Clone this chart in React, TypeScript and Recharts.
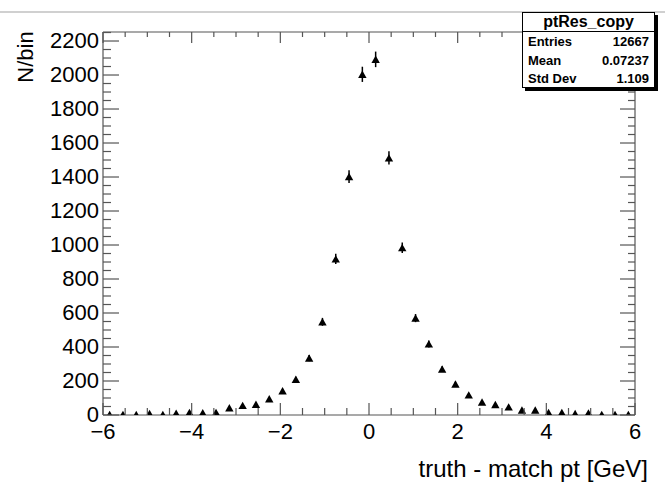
import React from 'react';
import { ScatterChart, Scatter, XAxis, YAxis, ErrorBar } from 'recharts';

const binCenters = [
  -5.85, -5.55, -5.25, -4.95, -4.65, -4.35, -4.05, -3.75, -3.45, -3.15,
  -2.85, -2.55, -2.25, -1.95, -1.65, -1.35, -1.05, -0.75, -0.45, -0.15,
  0.15, 0.45, 0.75, 1.05, 1.35, 1.65, 1.95, 2.25, 2.55, 2.85,
  3.15, 3.45, 3.75, 4.05, 4.35, 4.65, 4.95, 5.25, 5.55, 5.85,
];
const counts = [
  3, 3, 2, 8, 3, 10, 15, 13, 15, 42,
  56, 63, 95, 142, 210, 335, 548, 918, 1402, 2004,
  2092, 1512, 984, 570, 418, 270, 182, 118, 76, 61,
  47, 29, 29, 14, 14, 8, 12, 3, 3, 3,
];

const xMajorTicks = [-6, -4, -2, 0, 2, 4, 6];
const xTickLabels = ['−6', '−4', '−2', '0', '2', '4', '6'];
const yMajorTicks = [0, 200, 400, 600, 800, 1000, 1200, 1400, 1600, 1800, 2000, 2200];
const yTickLabels = ['0', '200', '400', '600', '800', '1000', '1200', '1400', '1600', '1800', '2000', '2200'];

const statTitle = 'ptRes_copy';
const statLabels = ['Entries', 'Mean', 'Std Dev'];
const statValues = ['12667', '0.07237', '1.109'];

const data = binCenters.map((x, i) => ({ x, y: counts[i], err: Math.sqrt(counts[i]) }));

// minor tick positions (every 0.5 on x, every 50 on y)
const xAllTicks: number[] = [];
for (let i = 0; i <= 24; i++) xAllTicks.push(-6 + i * 0.5);
const yAllTicks: number[] = [];
for (let i = 0; i <= 45; i++) yAllTicks.push(i * 50);

const FONT = "'Liberation Sans', Arial, Helvetica, sans-serif";
const AX = '#555';

const BottomTick = (p: any) => {
  const v = p.payload.value;
  const idx = xMajorTicks.indexOf(v);
  const len = idx >= 0 ? 12 : 7;
  return (
    <g>
      <line x1={p.x} x2={p.x} y1={p.y} y2={p.y - len} stroke={AX} strokeWidth={1.2} />
      {idx >= 0 && (
        <text x={p.x} y={p.y + 24} textAnchor="middle" fontSize={22} fontFamily={FONT} fill="#000">
          {xTickLabels[idx]}
        </text>
      )}
    </g>
  );
};

const TopTick = (p: any) => {
  const v = p.payload.value;
  const len = xMajorTicks.includes(v) ? 11 : 5;
  return <line x1={p.x} x2={p.x} y1={p.y} y2={p.y + len} stroke={AX} strokeWidth={1.2} />;
};

const LeftTick = (p: any) => {
  const v = p.payload.value;
  const idx = yMajorTicks.indexOf(v);
  const len = idx >= 0 ? 16 : 8;
  return (
    <g>
      <line x1={p.x} x2={p.x + len} y1={p.y} y2={p.y} stroke={AX} strokeWidth={1.2} />
      {idx >= 0 && (
        <text x={p.x - 4} y={p.y + 7} textAnchor="end" fontSize={22} fontFamily={FONT} fill="#000">
          {yTickLabels[idx]}
        </text>
      )}
    </g>
  );
};

const RightTick = (p: any) => {
  const v = p.payload.value;
  const len = yMajorTicks.includes(v) ? 15 : 7;
  return <line x1={p.x} x2={p.x - len} y1={p.y} y2={p.y} stroke={AX} strokeWidth={1.2} />;
};

const Triangle = (p: any) => {
  const { cx, cy } = p;
  return <polygon points={`${cx - 4.2},${cy + 3.6} ${cx + 4.2},${cy + 3.6} ${cx},${cy - 3.8}`} fill="#000" />;
};

export default function App() {
  return (
    <div style={{ position: 'absolute', left: 0, top: 0, width: 665, height: 482, background: '#fff', fontFamily: FONT }}>
      <div style={{ position: 'absolute', left: 0, top: 11, width: 665, height: 2, background: '#d0d0d0' }} />
      <ScatterChart width={665} height={482} margin={{ top: 0, right: 0, bottom: 0, left: 0 }}>
        <XAxis
          xAxisId="b"
          dataKey="x"
          type="number"
          domain={[-6, 6]}
          ticks={xAllTicks}
          interval={0}
          height={67}
          tickSize={0}
          tickMargin={0}
          tick={<BottomTick />}
          axisLine={{ stroke: AX, strokeWidth: 1.2 }}
          allowDataOverflow
        />
        <XAxis
          xAxisId="t"
          dataKey="x"
          type="number"
          orientation="top"
          domain={[-6, 6]}
          ticks={xAllTicks}
          interval={0}
          height={32}
          tickSize={0}
          tickMargin={0}
          tick={<TopTick />}
          axisLine={{ stroke: AX, strokeWidth: 1.2 }}
          allowDataOverflow
        />
        <YAxis
          yAxisId="l"
          dataKey="y"
          type="number"
          domain={[0, 2253]}
          ticks={yAllTicks}
          interval={0}
          width={103}
          tickSize={0}
          tickMargin={0}
          tick={<LeftTick />}
          axisLine={{ stroke: AX, strokeWidth: 1.2 }}
          allowDataOverflow
        />
        <YAxis
          yAxisId="r"
          dataKey="y"
          type="number"
          orientation="right"
          domain={[0, 2253]}
          ticks={yAllTicks}
          interval={0}
          width={30}
          tickSize={0}
          tickMargin={0}
          tick={<RightTick />}
          axisLine={{ stroke: AX, strokeWidth: 1.2 }}
          allowDataOverflow
        />
        <Scatter data={data} xAxisId="b" yAxisId="l" shape={<Triangle />} isAnimationActive={false}>
          <ErrorBar dataKey="err" direction="y" width={0} stroke="#000" strokeWidth={1.5} />
        </Scatter>
        <Scatter data={data} xAxisId="t" yAxisId="r" shape={() => null} isAnimationActive={false} />
      </ScatterChart>
      <div
        style={{
          position: 'absolute', left: 26, top: 57, transform: 'translate(-50%, -50%) rotate(-90deg)',
          fontSize: 22, whiteSpace: 'nowrap', color: '#000',
        }}
      >
        N/bin
      </div>
      <div style={{ position: 'absolute', right: 665 - 648, top: 455, fontSize: 24, whiteSpace: 'nowrap', color: '#000' }}>
        truth - match pt [GeV]
      </div>
      <div
        style={{
          position: 'absolute', left: 522, top: 12, width: 133, height: 76, boxSizing: 'border-box',
          border: '1px solid #000', background: '#fff', boxShadow: '3px 3px 0 #000', color: '#000',
        }}
      >
        <div style={{ height: 18, borderBottom: '1px solid #000', textAlign: 'center', fontSize: 16, fontWeight: 'bold', lineHeight: '18px' }}>
          {statTitle}
        </div>
        {statLabels.map((l, i) => (
          <div key={l} style={{ display: 'flex', justifyContent: 'space-between', padding: '0 5px 0 5px', fontSize: 13, fontWeight: 'bold', height: 18.7, lineHeight: '19px' }}>
            <span>{l}</span>
            <span>{statValues[i]}</span>
          </div>
        ))}
      </div>
    </div>
  );
}
